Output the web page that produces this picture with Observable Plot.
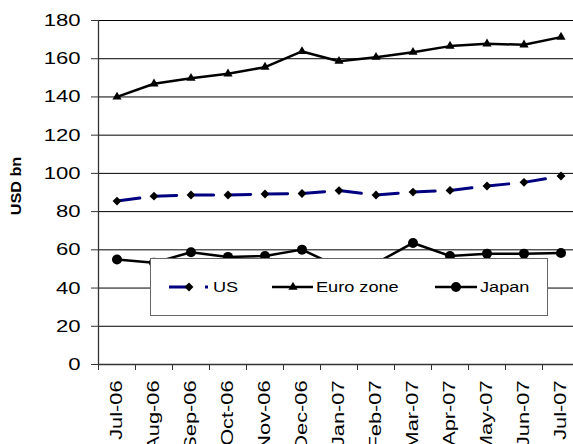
<!DOCTYPE html>
<html>
<head>
<meta charset="utf-8">
<script src="https://cdn.jsdelivr.net/npm/d3@7"></script>
<script src="https://cdn.jsdelivr.net/npm/@observablehq/plot@0.6"></script>
<style>
  html, body { margin: 0; padding: 0; background: #fff; }
  #chart svg { display: block; }
</style>
</head>
<body>
<div id="chart"></div>
<script>
const months = ["Jul-06","Aug-06","Sep-06","Oct-06","Nov-06","Dec-06","Jan-07","Feb-07","Mar-07","Apr-07","May-07","Jun-07","Jul-07"];
const seriesNames = ["US", "Euro zone", "Japan"];
const us    = [85.5, 88.1, 88.7, 88.7, 89.2, 89.5, 91.0, 88.7, 90.2, 91.1, 93.4, 95.3, 98.6];
const euro  = [140.0, 146.9, 149.8, 152.1, 155.6, 163.8, 158.7, 160.8, 163.4, 166.6, 167.8, 167.3, 171.3];
const japan = [54.9, 53.3, 58.7, 56.3, 56.8, 60.1, 51.0, 53.0, 63.6, 56.8, 58.0, 58.0, 58.3];
const yTicks = [0, 20, 40, 60, 80, 100, 120, 140, 160, 180];
const yTitle = "USD bn";

const toRows = (vals) => vals.map((v, i) => ({i, v}));
const usRows = toRows(us), euroRows = toRows(euro), japanRows = toRows(japan);
const idx = months.map((_, i) => i);
const bounds = d3.range(-0.5, months.length, 1);

const FONT = "'Liberation Sans', Arial, sans-serif";

const plot = Plot.plot({
  width: 573,
  height: 444,
  marginLeft: 98,
  marginTop: 20,
  marginBottom: 80,
  marginRight: 0,
  style: {fontFamily: FONT, fontSize: "17px", color: "#000", background: "#fff"},
  x: {domain: [-0.5, months.length - 0.5], range: [98, 579]},
  y: {domain: [0, 180], range: [364, 20]},
  marks: [
    Plot.ruleY(yTicks.filter(d => d > 0), {stroke: "#000", strokeWidth: 1}),
    Plot.ruleY([0], {stroke: "#333", strokeWidth: 1.3}),
    Plot.ruleX([-0.5], {stroke: "#333", strokeWidth: 1.3}),
    Plot.axisY(yTicks, {tickSize: 7, tickPadding: 11, label: null, stroke: "#333", fontSize: 17}),
    Plot.axisX(bounds, {tickSize: 6, tickFormat: () => "", label: null, stroke: "#333"}),
    Plot.axisX(idx, {tickSize: 0, tickPadding: 16, tickRotate: -90, textAnchor: "end", lineAnchor: "middle",
                     tickFormat: i => months[i], label: null, fontSize: 17}),
    Plot.line(usRows, {x: "i", y: "v", stroke: "#000080", strokeWidth: 3, strokeDasharray: "23,14"}),
    Plot.dot(usRows, {x: "i", y: "v", symbol: "diamond2", r: 4, fill: "#000", stroke: "none"}),
    Plot.line(euroRows, {x: "i", y: "v", stroke: "#000", strokeWidth: 2.5}),
    Plot.dot(euroRows, {x: "i", y: "v", symbol: "triangle", r: 3.4, fill: "#000", stroke: "none"}),
    Plot.line(japanRows, {x: "i", y: "v", stroke: "#000", strokeWidth: 2.5}),
    Plot.dot(japanRows, {x: "i", y: "v", symbol: "circle", r: 5, fill: "#000", stroke: "none"})
  ]
});

document.getElementById("chart").appendChild(plot);
const svg = d3.select(plot);

// stretch glyphs along the reading direction without moving the anchor
function stretch(sel, s) {
  sel.each(function() {
    const L = this.getComputedTextLength();
    if (L > 0) {
      this.setAttribute("textLength", (L * s).toFixed(2));
      this.setAttribute("lengthAdjust", "spacingAndGlyphs");
    }
  });
}
stretch(svg.selectAll('g[aria-label="y-axis tick label"] text'), 1.3);
stretch(svg.selectAll('g[aria-label="x-axis tick label"] text'), 1.28);

// y-axis title
const yt = svg.append("text")
  .attr("transform", "translate(16,186) rotate(-90)")
  .attr("text-anchor", "middle")
  .attr("dy", "0.35em")
  .attr("font-family", FONT)
  .attr("font-weight", "bold")
  .attr("font-size", 15)
  .attr("fill", "#000")
  .text(yTitle);
stretch(yt, 1.08);

// legend
const lg = svg.append("g").attr("font-family", FONT).attr("font-size", 15.5).attr("text-anchor", "start");
lg.append("rect").attr("x", 150.5).attr("y", 258.5).attr("width", 397).attr("height", 57)
  .attr("fill", "#fff").attr("stroke", "#666").attr("stroke-width", 1);
const ly = 287;
const items = [
  {name: seriesNames[0], x0: 169, x1: 209, mx: 189, tx: 213, stroke: "#000080", dash: "19,17,3,100", sym: d3.symbolDiamond2, size: Math.PI * 16},
  {name: seriesNames[1], x0: 272, x1: 313, mx: 293, tx: 316, stroke: "#000", dash: null, sym: d3.symbolTriangle, size: Math.PI * 3.4 * 3.4},
  {name: seriesNames[2], x0: 435, x1: 477, mx: 456, tx: 480, stroke: "#000", dash: null, sym: d3.symbolCircle, size: Math.PI * 25}
];
items.forEach(it => {
  const ln = lg.append("line").attr("x1", it.x0).attr("x2", it.x1).attr("y1", ly).attr("y2", ly)
    .attr("stroke", it.stroke).attr("stroke-width", it.stroke === "#000080" ? 3 : 2.5);
  if (it.dash) ln.attr("stroke-dasharray", it.dash);
  lg.append("path").attr("d", d3.symbol(it.sym, it.size)()).attr("transform", `translate(${it.mx},${ly})`).attr("fill", "#000");
  const t = lg.append("text").attr("x", it.tx).attr("y", ly).attr("dy", "0.35em").attr("fill", "#000")
    .attr("text-anchor", "start").text(it.name);
  stretch(t, 1.17);
});
</script>
</body>
</html>
